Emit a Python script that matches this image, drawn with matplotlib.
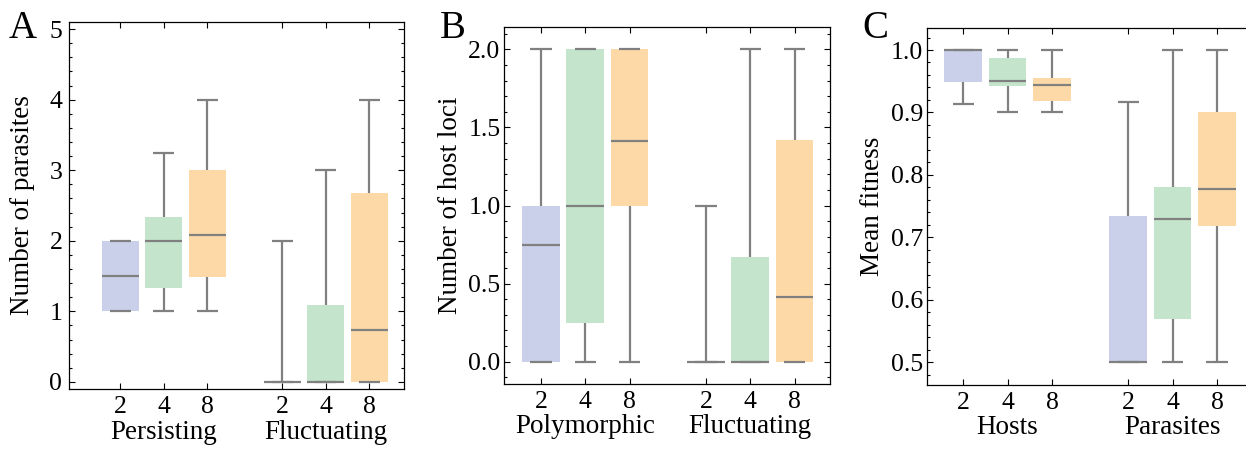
import matplotlib
matplotlib.use("Agg")
import matplotlib.pyplot as plt
from matplotlib.ticker import MultipleLocator, FixedLocator, FormatStrFormatter

plt.rcParams['font.family'] = ['Liberation Serif', 'DejaVu Serif']

# ---------------- data ----------------
bin_labels = ["2", "4", "8"]
box_colors = ["#cbd0ea", "#c4e4cc", "#fed9a8"]

# each entry: (whisker low, q1, median, q3, whisker high)
a_groups = ["Persisting", "Fluctuating"]
a_persisting = [(1.0, 1.0, 1.5, 2.0, 2.0),
                (1.0, 1.325, 2.0, 2.335, 3.245),
                (1.0, 1.49, 2.085, 3.0, 4.0)]
a_fluctuating = [(0.0, 0.0, 0.0, 0.0, 2.0),
                 (0.0, 0.0, 0.0, 1.09, 3.0),
                 (0.0, 0.0, 0.74, 2.674, 4.0)]

b_groups = ["Polymorphic", "Fluctuating"]
b_polymorphic = [(0.0, 0.0, 0.748, 1.0, 2.0),
                 (0.0, 0.25, 1.0, 2.0, 2.0),
                 (0.0, 1.0, 1.415, 2.0, 2.0)]
b_fluctuating = [(0.0, 0.0, 0.0, 0.0, 1.0),
                 (0.0, 0.0, 0.0, 0.669, 2.0),
                 (0.0, 0.0, 0.417, 1.419, 2.0)]

c_groups = ["Hosts", "Parasites"]
c_hosts = [(0.914, 0.949, 1.0, 1.0, 1.0),
           (0.90, 0.942, 0.951, 0.987, 1.0),
           (0.90, 0.919, 0.944, 0.955, 1.0)]
c_parasites = [(0.5, 0.5, 0.5, 0.734, 0.917),
               (0.5, 0.570, 0.729, 0.780, 1.0),
               (0.5, 0.719, 0.7775, 0.9008, 1.0)]

panel_letters = ["A", "B", "C"]
y_labels = ["Number of parasites", "Number of host loci", "Mean fitness"]

# ---------------- layout ----------------
W, H = 1246, 449
fig = plt.figure(figsize=(W / 100, H / 100), dpi=100)

def frac(x0, y0, x1, y1):
    return [x0 / W, 1 - y1 / H, (x1 - x0) / W, (y1 - y0) / H]

axA = fig.add_axes(frac(69.3, 22, 404.3, 389))
axB = fig.add_axes(frac(504, 26.7, 830, 384))
axC = fig.add_axes(frac(927.3, 27.7, 1252.5, 385))

positions = [1, 2, 3, 4.72, 5.72, 6.72]
grey = "#808080"
TICK_FS = 18.5
LAB_FS = 19.5

def draw(ax, g1, g2, groups, ylabel, letter, ylim, xlim, major, minor,
         yfmt, ylabel_x, ypad, letter_x, letter_y):
    stats = []
    for v in list(g1) + list(g2):
        lo, q1, med, q3, hi = v
        stats.append(dict(whislo=lo, q1=q1, med=med, q3=q3, whishi=hi, fliers=[]))
    bp = ax.bxp(stats, positions=positions, widths=0.85, patch_artist=True,
                showfliers=False, manage_ticks=False,
                boxprops=dict(linewidth=0),
                whiskerprops=dict(color=grey, linewidth=1.6),
                capprops=dict(color=grey, linewidth=1.6),
                medianprops=dict(color=grey, linewidth=1.6),
                capwidths=0.48)
    for patch, col in zip(bp['boxes'], box_colors * 2):
        patch.set_facecolor(col)
        patch.set_edgecolor(col)
        patch.set_zorder(1)
    for ln in bp['whiskers'] + bp['caps'] + bp['medians']:
        ln.set_zorder(2)
        ln.set_solid_capstyle('butt')
    ax.set_xlim(*xlim)
    ax.set_ylim(*ylim)
    ax.xaxis.set_major_locator(FixedLocator(positions))
    ax.set_xticklabels(bin_labels * 2)
    ax.yaxis.set_major_locator(MultipleLocator(major))
    ax.yaxis.set_minor_locator(MultipleLocator(minor))
    ax.yaxis.set_major_formatter(yfmt)
    ax.tick_params(axis='both', which='both', direction='in', top=True,
                   right=True, labelsize=TICK_FS, width=0.8, color='black')
    ax.tick_params(axis='both', which='major', length=4)
    ax.tick_params(axis='both', which='minor', length=2.5)
    ax.tick_params(axis='x', which='minor', top=False, bottom=False)
    ax.tick_params(axis='x', pad=5)
    ax.tick_params(axis='y', pad=ypad)
    for sp in ax.spines.values():
        sp.set_linewidth(0.9)
    ax.set_ylabel(ylabel, fontsize=LAB_FS, va='center')
    ax.yaxis.set_label_coords(ylabel_x, 0.5)
    tr = ax.get_xaxis_transform()
    ax.text(2, -0.118, groups[0], transform=tr, ha='center', va='center',
            fontsize=LAB_FS)
    ax.text(5.72, -0.118, groups[1], transform=tr, ha='center', va='center',
            fontsize=LAB_FS)
    fig.text(letter_x / W, 1 - letter_y / H, letter, fontsize=28,
             ha='left', va='baseline')

draw(axA, a_persisting, a_fluctuating, a_groups, y_labels[0], panel_letters[0],
     (-0.1, 5.1), (-0.17, 7.52), 1, 0.2, FormatStrFormatter('%d'),
     -0.14, 5.0, 9, 37.5)
draw(axB, b_polymorphic, b_fluctuating, b_groups, y_labels[1], panel_letters[1],
     (-0.143, 2.145), (0.165, 7.52), 0.5, 0.1, FormatStrFormatter('%.1f'),
     -0.163, 2.5, 440, 37.5)
draw(axC, c_hosts, c_parasites, c_groups, y_labels[2], panel_letters[2],
     (0.4637, 1.0357), (0.19, 7.52), 0.1, 0.02, FormatStrFormatter('%.1f'),
     -0.167, 3.0, 862, 37.5)

fig.savefig("out.png", dpi=100)
